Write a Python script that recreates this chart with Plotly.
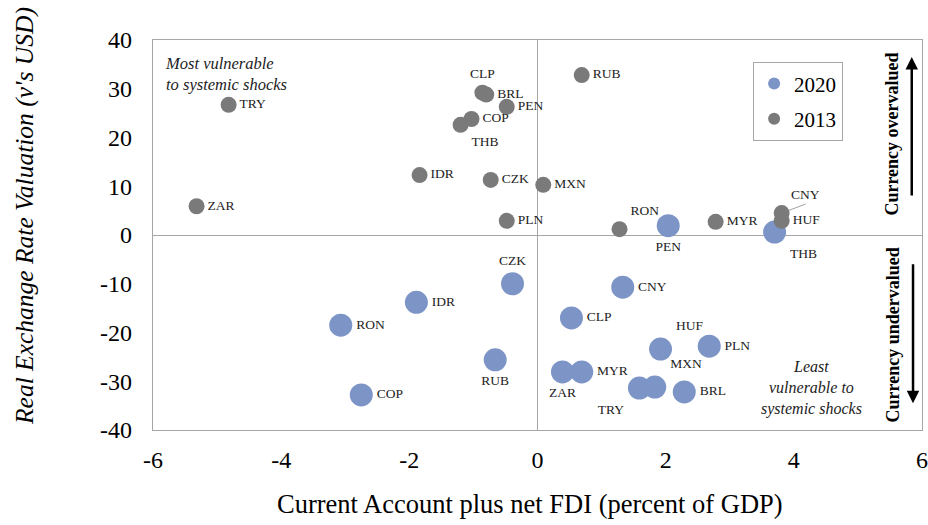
import plotly.graph_objects as go

# ---- data ----
cur_2013 = ["TRY", "ZAR", "CLP", "BRL", "PEN", "COP", "THB", "IDR", "CZK", "PLN",
            "MXN", "RUB", "RON", "MYR", "CNY", "HUF"]
x_2013 = [-4.82, -5.32, -0.86, -0.80, -0.48, -1.03, -1.20, -1.84, -0.73, -0.48,
          0.09, 0.69, 1.28, 2.78, 3.81, 3.81]
y_2013 = [26.7, 5.9, 29.2, 28.8, 26.3, 23.8, 22.6, 12.3, 11.3, 2.9,
          10.3, 32.8, 1.2, 2.7, 4.5, 2.9]

cur_2020 = ["PEN", "THB", "CZK", "IDR", "RON", "RUB", "COP", "CNY", "CLP", "HUF",
            "PLN", "ZAR", "MYR", "TRY", "MXN", "BRL"]
x_2020 = [2.04, 3.70, -0.39, -1.89, -3.07, -0.66, -2.75, 1.33, 0.53, 1.92,
          2.68, 0.39, 0.69, 1.59, 1.83, 2.29]
y_2020 = [1.9, 0.6, -10.0, -13.8, -18.5, -25.6, -32.8, -10.7, -17.0, -23.4,
          -22.8, -28.1, -28.1, -31.4, -31.2, -32.2]

x_ticks = [-6, -4, -2, 0, 2, 4, 6]
y_ticks = [-40, -30, -20, -10, 0, 10, 20, 30, 40]

# label placement (style)
pos_2013 = {"TRY": "middle right", "ZAR": "middle right", "CLP": "top center",
            "BRL": "middle right", "PEN": "middle right", "COP": "middle right",
            "THB": "bottom right", "IDR": "middle right", "CZK": "middle right",
            "PLN": "middle right", "MXN": "middle right", "RUB": "middle right",
            "RON": "top right", "MYR": "middle right", "CNY": None, "HUF": "middle right"}
pos_2020 = {"PEN": "bottom center", "THB": "bottom right", "CZK": "top center",
            "IDR": "middle right", "RON": "middle right", "RUB": "bottom center",
            "COP": "middle right", "CNY": "middle right", "CLP": "middle right",
            "HUF": "top right", "PLN": "middle right", "ZAR": "bottom center",
            "MYR": "middle right", "TRY": "bottom left", "MXN": "top right",
            "BRL": "middle right"}

BLUE = "#7C95C6"
GRAY = "#7A7A7A"
FONT = "Liberation Serif, Times New Roman, serif"
LBL = dict(family=FONT, size=13.5, color="#222")

fig = go.Figure()

fig.add_trace(go.Scatter(
    x=x_2020, y=y_2020, mode="markers+text", name="2020", legendgroup="g2020",
    marker=dict(size=23, color=BLUE),
    text=cur_2020,
    textposition=[pos_2020[c] for c in cur_2020],
    textfont=LBL, cliponaxis=False,
))
fig.add_trace(go.Scatter(
    x=x_2013, y=y_2013, mode="markers+text", name="2013", legendgroup="g2013",
    marker=dict(size=16, color=GRAY),
    text=[c if pos_2013[c] else "" for c in cur_2013],
    textposition=[pos_2013[c] or "middle right" for c in cur_2013],
    textfont=LBL, cliponaxis=False,
))

# CNY 2013 label with leader line
i_cny = cur_2013.index("CNY")
fig.add_annotation(x=x_2013[i_cny], y=y_2013[i_cny], text="CNY", showarrow=True,
                   arrowhead=0, arrowwidth=0.8, arrowcolor="#888", standoff=6,
                   ax=24, ay=-9, xanchor="center", yanchor="bottom",
                   font=LBL)

# quadrant notes
fig.add_annotation(x=-5.85, y=37.6, xref="x", yref="y", xanchor="left", yanchor="top",
                   text="<i>Most vulnerable<br>to systemic shocks</i>", showarrow=False,
                   align="left", font=dict(family=FONT, size=16.5, color="#222"))
fig.add_annotation(x=4.27, y=-31.4, xref="x", yref="y", xanchor="center", yanchor="middle",
                   text="<i>Least<br>vulnerable to<br>systemic shocks</i>", showarrow=False,
                   align="center", font=dict(family=FONT, size=16, color="#222"))

# side labels and arrows
fig.add_annotation(x=5.54, y=20.7, text="<b>Currency overvalued</b>", textangle=-90,
                   showarrow=False, font=dict(family=FONT, size=18, color="#000"))
fig.add_annotation(x=5.54, y=-20.5, text="<b>Currency undervalued</b>", textangle=-90,
                   showarrow=False, font=dict(family=FONT, size=18, color="#000"))
fig.add_annotation(x=5.84, y=36.5, ax=5.84, ay=7.8, xref="x", yref="y", axref="x", ayref="y",
                   showarrow=True, arrowhead=2, arrowsize=1, arrowwidth=2.5, arrowcolor="#000", text="")
fig.add_annotation(x=5.86, y=-34.5, ax=5.86, ay=-5.7, xref="x", yref="y", axref="x", ayref="y",
                   showarrow=True, arrowhead=2, arrowsize=1, arrowwidth=2.5, arrowcolor="#000", text="")

# axis titles
fig.add_annotation(x=0.5, y=0, xref="paper", yref="paper", xanchor="center", yanchor="middle",
                   xshift=-7.5, yshift=-74, showarrow=False,
                   text="Current Account plus net FDI (percent of GDP)",
                   font=dict(family=FONT, size=26.5, color="#000"))
fig.add_annotation(x=0, y=0.5, xref="paper", yref="paper", xanchor="center", yanchor="middle",
                   xshift=-129, yshift=19, showarrow=False, textangle=-90,
                   text="<i>Real Exchange Rate Valuation (v's USD)</i>",
                   font=dict(family=FONT, size=25.5, color="#000"))

axis_common = dict(showgrid=False, zeroline=True, zerolinecolor="#A6A6A6", zerolinewidth=1.3,
                   showline=True, linecolor="#A6A6A6", linewidth=1.3, mirror=True,
                   ticks="", tickfont=dict(family=FONT, size=24, color="#000"),
                   automargin=False)

fig.update_layout(
    width=928, height=525,
    margin=dict(l=153, r=6, t=40, b=95),
    paper_bgcolor="white", plot_bgcolor="white",
    xaxis=dict(range=[-6, 6], tickvals=x_ticks, ticktext=[str(v) for v in x_ticks],
               ticklabelstandoff=8, **axis_common),
    yaxis=dict(range=[-40, 40], tickvals=y_ticks, ticktext=[str(v) for v in y_ticks],
               ticklabelstandoff=15, **axis_common),
    legend=dict(x=0.780, y=0.9436, xanchor="left", yanchor="top",
                traceorder="grouped", tracegroupgap=5, itemsizing="constant",
                bordercolor="#A6A6A6", borderwidth=1.3, bgcolor="white",
                font=dict(family=FONT, size=21, color="#000")),
    showlegend=True,
)

fig.write_html("out.html", config={"displayModeBar": False},
               post_script="document.body.style.margin='0';")
